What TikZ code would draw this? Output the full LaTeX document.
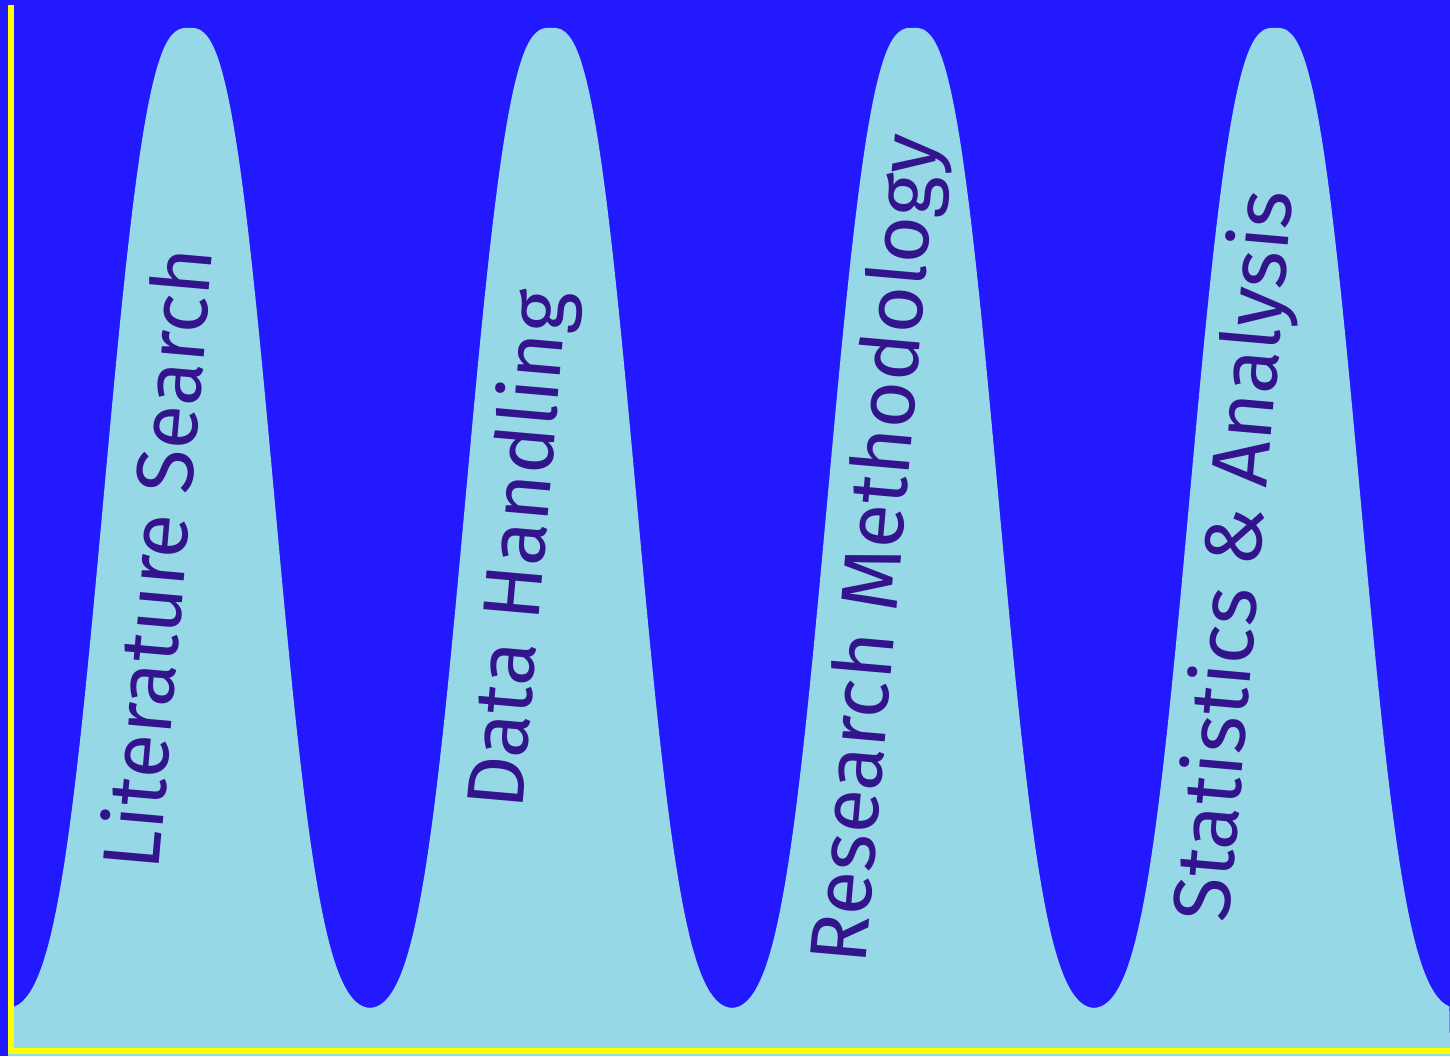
\documentclass[tikz,border=0pt]{standalone}
\usepackage{fontspec}
\setmainfont{Fira Sans}
\definecolor{deepblue}{HTML}{2219FF}
\definecolor{hillblue}{HTML}{96D8E6}
\definecolor{inkblue}{HTML}{33148C}
\definecolor{edgeyellow}{HTML}{FFFF00}

\begin{document}
\begin{tikzpicture}[
    hill/.style={
        fill=hillblue
    },
    edge/.style={
        draw=edgeyellow,
        line width=0.06cm
    },
    peaktext/.style={
        text=inkblue,
        rotate=85,
        inner sep=0pt,
        font=\fontsize{23}{27}\selectfont
    }
]

\useasboundingbox (0,0) rectangle (14.5,10.56);
\fill[deepblue] (0,0) rectangle (14.5,10.56);

% four hills, one every 3.62cm
\fill[hill] (0.08,0) -- plot[domain=0.08:14.5, samples=721, smooth]
    (\x, {0.38 + 9.9*( exp(-pow(abs(mod(\x-0.08,3.62)-1.81)+0.0001,2.8))
                    + exp(-pow(3.62-abs(mod(\x-0.08,3.62)-1.81),2.8)) )})
    -- (14.5,0) -- cycle;

\node[peaktext] (litsearch) at (1.55,4.98) {Literature Search};
\node[peaktext] (datahandling) at (5.22,5.06) {Data Handling};
\node[peaktext] (resmethod) at (8.80,5.07) {Research Methodology};
\node[peaktext] (statanalysis) at (12.38,5.00) {Statistics \& Analysis};

\draw[edge] (0.11,10.51) -- (0.11,0.05);
\draw[edge] (0.08,0.05) -- (14.5,0.05);
\end{tikzpicture}
\end{document}
